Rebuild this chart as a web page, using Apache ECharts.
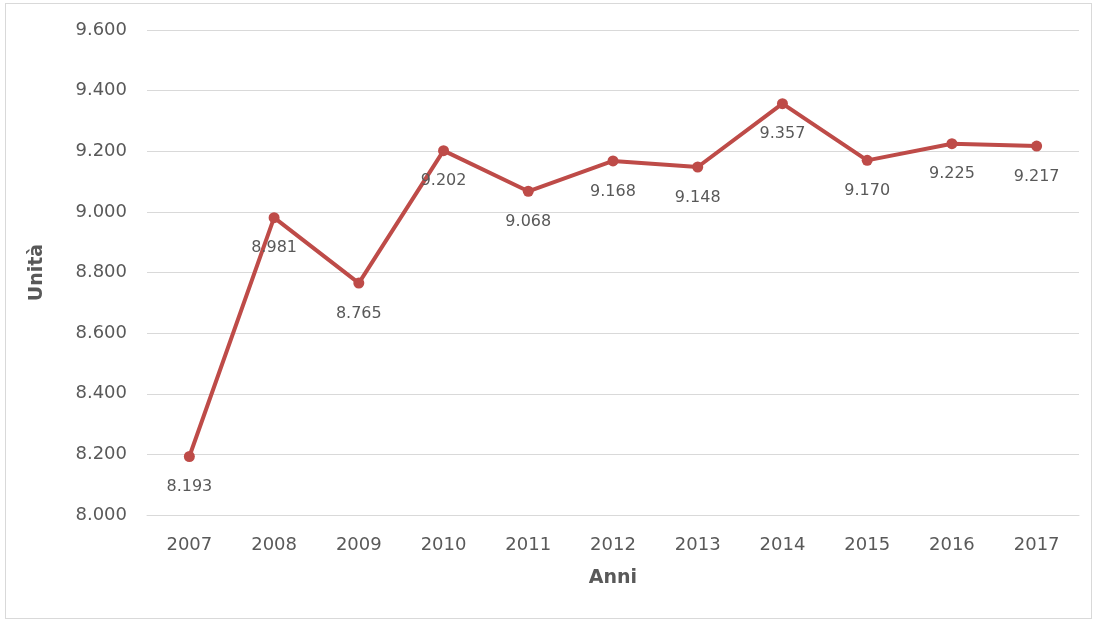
<!DOCTYPE html>
<html>
<head>
<meta charset="utf-8">
<script src="https://cdn.jsdelivr.net/npm/echarts@6/dist/echarts.min.js"></script>
<style>
  html, body { margin: 0; padding: 0; background: #fff; }
  #frame { position: absolute; left: 5px; top: 3px; width: 1087px; height: 616px; border: 1px solid #d9d9d9; box-sizing: border-box; }
  #chart { width: 1100px; height: 624px; position: absolute; left: 0; top: 0; }
</style>
</head>
<body>
<div id="frame"></div>
<div id="chart"></div>
<script>
// Anni e unità registrate
const anni = ['2007', '2008', '2009', '2010', '2011', '2012', '2013', '2014', '2015', '2016', '2017'];
const unita = [8193, 8981, 8765, 9202, 9068, 9168, 9148, 9357, 9170, 9225, 9217];

const FONT = '"DejaVu Sans", sans-serif';
const GREY = '#595959';
const fmt = v => {
  const s = String(Math.round(v));
  return s.length > 3 ? s.slice(0, s.length - 3) + '.' + s.slice(-3) : s;
};

const chart = echarts.init(document.getElementById('chart'));
chart.setOption({
  animation: false,
  grid: { left: 147, right: 21, top: 30, bottom: 109, containLabel: false },
  xAxis: {
    type: 'category',
    data: anni,
    boundaryGap: true,
    name: 'Anni',
    nameLocation: 'middle',
    nameGap: 54,
    nameTextStyle: { fontFamily: FONT, fontSize: 19, fontWeight: 'bold', color: GREY },
    axisLine: { lineStyle: { color: '#d9d9d9', width: 1 } },
    axisTick: { show: false },
    axisLabel: { fontFamily: FONT, fontSize: 18, color: GREY, margin: 21 }
  },
  yAxis: {
    type: 'value',
    min: 8000,
    max: 9600,
    interval: 200,
    name: 'Unità',
    nameLocation: 'middle',
    nameGap: 100,
    nameTextStyle: { fontFamily: FONT, fontSize: 19, fontWeight: 'bold', color: GREY },
    axisLine: { show: false },
    axisTick: { show: false },
    axisLabel: { fontFamily: FONT, fontSize: 18, color: GREY, margin: 20, formatter: fmt },
    splitLine: { lineStyle: { color: '#d9d9d9', width: 1 } }
  },
  series: [{
    type: 'line',
    data: unita,
    symbol: 'circle',
    symbolSize: 11,
    lineStyle: { color: '#be4b48', width: 4 },
    itemStyle: { color: '#be4b48' },
    label: {
      show: true,
      position: 'bottom',
      distance: 17,
      fontFamily: FONT,
      fontSize: 16,
      color: GREY,
      formatter: p => fmt(p.value)
    }
  }]
});
</script>
</body>
</html>
